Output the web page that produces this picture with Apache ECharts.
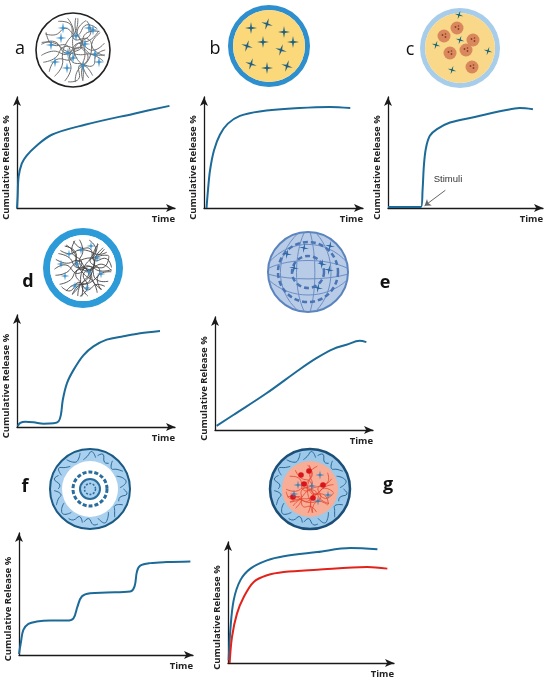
<!DOCTYPE html>
<html>
<head>
<meta charset="utf-8">
<script src="https://cdn.jsdelivr.net/npm/echarts@6/dist/echarts.min.js"></script>
<style>
  html, body { margin: 0; padding: 0; background: #fff; }
  #main { width: 550px; height: 681px; }
</style>
</head>
<body>
<div id="main"></div>
<script>
// release profiles (x = time 0-100, y = release 0-100)
var seriesA = [[0,0],[0.4,10],[1,28],[3,40],[6,47],[11.5,55],[22,66],[43,75],[74,85],[96.5,92]];
var seriesB = [[1.6,0],[2.5,16],[3.8,34],[6.3,52],[10,66],[15,76],[22.6,83],[35,87],[60,90],[79,91],[92,90]];
var seriesC = [[0,1],[21.3,1],[22.3,16],[23.2,39],[24.5,54],[27,65],[31.6,71],[40,77],[56,82],[75.5,88],[85,90],[93.5,89]];
var seriesD = [[0.4,0.6],[2.1,3.6],[5.3,4.7],[10.5,4.2],[16.8,3],[23.2,3.3],[26.3,5],[27.8,11],[29,24.3],[31.6,39],[35.8,51],[42,64],[48.4,72],[56.8,78],[67.4,81],[77.9,83.7],[90.5,85.8]];
var seriesE = [[1,3.6],[11.6,13.3],[32.6,32.5],[53.7,53.8],[64.2,63.6],[74.7,71.6],[83.2,75.4],[91.6,79],[95.8,77.8]];
var seriesF = [[0,0.8],[1,9.6],[2.5,20.5],[5.4,25.5],[10.2,27.4],[17.9,28.2],[27.4,28.2],[31.3,30.1],[33.6,39.7],[36.1,48],[40.9,50.7],[50.5,51.2],[63.9,52],[66.4,56.2],[67.8,68.5],[69.7,73.2],[75.4,75.3],[85,76.2],[98.5,76.7]];
var seriesGBlue = [[0.4,2.2],[1.4,27],[3.4,51.8],[7.4,68.3],[13.5,78],[23.5,84.8],[33.6,88.2],[53.7,91.7],[73.8,95],[90,94]];
var seriesGRed = [[1,0],[2.4,21.5],[5.4,40.8],[9.5,54.5],[15.5,67],[23.5,72.5],[33.6,75.2],[53.7,77.1],[83.9,79.3],[96,78]];
var stimuliArrow = [[37,16],[23.6,2]];

var yName = 'Cumulative Release %';
var xName = 'Time';
var BLUE = '#1c6a98', RED = '#e2231c';

var panels = [
  { grid: { left: 15,  top: 97,  width: 160, height: 111 }, lines: [seriesA], colors: [BLUE] },
  { grid: { left: 204, top: 97,  width: 159, height: 111 }, lines: [seriesB], colors: [BLUE] },
  { grid: { left: 388, top: 97,  width: 155, height: 111 }, lines: [seriesC], colors: [BLUE], stimuli: true },
  { grid: { left: 17,  top: 315, width: 158, height: 112 }, lines: [seriesD], colors: [BLUE] },
  { grid: { left: 215, top: 317, width: 158, height: 113 }, lines: [seriesE], colors: [BLUE] },
  { grid: { left: 19,  top: 533, width: 174, height: 122 }, lines: [seriesF], colors: [BLUE] },
  { grid: { left: 228, top: 542, width: 166, height: 121 }, lines: [seriesGBlue, seriesGRed], colors: [BLUE, RED] }
];

var axisLine = { show: true, symbol: ['none', 'arrow'], symbolSize: [6, 9], lineStyle: { color: '#1a1a1a', width: 1.3 } };
var nameFont = { fontFamily: 'Open Sans', fontWeight: 'bold', fontSize: 9.5, color: '#222' };

var grids = [], xAxes = [], yAxes = [], series = [];
panels.forEach(function (p, i) {
  grids.push(p.grid);
  xAxes.push({
    gridIndex: i, type: 'value', min: 0, max: 100,
    axisLine: axisLine, axisTick: { show: false }, axisLabel: { show: false }, splitLine: { show: false },
    name: xName, nameLocation: 'end', nameGap: 0,
    nameTextStyle: Object.assign({ align: 'right', verticalAlign: 'top', padding: [6, 0, 0, 0] }, nameFont)
  });
  yAxes.push({
    gridIndex: i, type: 'value', min: 0, max: 100,
    axisLine: axisLine, axisTick: { show: false }, axisLabel: { show: false }, splitLine: { show: false },
    name: yName, nameLocation: 'middle', nameGap: 6,
    nameTextStyle: Object.assign({ padding: [0, 30, 0, 0] }, nameFont)
  });
  p.lines.forEach(function (d, k) {
    var s = {
      type: 'line', xAxisIndex: i, yAxisIndex: i, data: d, smooth: 0.35,
      showSymbol: false, silent: true,
      lineStyle: { color: p.colors[k], width: 2 }
    };
    if (p.stimuli) {
      s.markLine = {
        silent: true, symbol: ['none', 'arrow'], symbolSize: 6,
        label: { show: false },
        lineStyle: { color: '#666', width: 1, type: 'solid' },
        data: [[{ coord: stimuliArrow[0] }, { coord: stimuliArrow[1] }]]
      };
    }
    series.push(s);
  });
});

// ---- schematic particle icons ----
var g = [];
function circle(cx, cy, r, fill, stroke, lw, dash) {
  g.push({ type: 'circle', silent: true, shape: { cx: cx, cy: cy, r: r },
    style: { fill: fill || 'none', stroke: stroke || 'none', lineWidth: lw || 0, lineDash: dash || null } });
}
function ring(cx, cy, r0, r, fill) {
  g.push({ type: 'ring', silent: true, shape: { cx: cx, cy: cy, r: r, r0: r0 }, style: { fill: fill } });
}
function star(x, y, s, fill, rot) {
  var pts = [];
  for (var i = 0; i < 8; i++) {
    var a = (rot || 0) + i * Math.PI / 4;
    var rr = i % 2 === 0 ? s : s * 0.22;
    pts.push([x + rr * Math.cos(a), y + rr * Math.sin(a)]);
  }
  g.push({ type: 'polygon', silent: true, shape: { points: pts }, style: { fill: fill } });
}
// tangled polymer chains: wavy chords across the disc
function fibers(cx, cy, r, n, color, lw, off) {
  for (var k = 0; k < n; k++) {
    var a1 = k * 2.39996 + (off || 0);
    var a2 = a1 + Math.PI * (0.55 + 0.5 * Math.abs(Math.sin(k * 1.3)));
    var x1 = cx + r * 0.92 * Math.cos(a1), y1 = cy + r * 0.92 * Math.sin(a1);
    var x2 = cx + r * 0.92 * Math.cos(a2), y2 = cy + r * 0.92 * Math.sin(a2);
    var nx = -(y2 - y1), ny = x2 - x1, len = Math.sqrt(nx * nx + ny * ny) || 1;
    nx /= len; ny /= len;
    var pts = [];
    for (var j = 0; j <= 5; j++) {
      var t = j / 5;
      var w = (j === 0 || j === 5) ? 0 : r * 0.14 * Math.sin(k * 2.1 + j * 2.7);
      pts.push([x1 + (x2 - x1) * t + nx * w, y1 + (y2 - y1) * t + ny * w]);
    }
    g.push({ type: 'polyline', silent: true, shape: { points: pts, smooth: 0.5 },
      style: { stroke: color, lineWidth: lw, fill: 'none' } });
  }
}
function bandFibers(cx, cy, r0, r1, n, color) {
  for (var k = 0; k < n; k++) {
    var pts = [];
    for (var j = 0; j < 4; j++) {
      var ang = (k + j * 0.3) * 2 * Math.PI / n;
      var rad = r0 + (r1 - r0) * (0.5 + 0.45 * Math.sin(k * 2.3 + j * 1.9));
      pts.push([cx + rad * Math.cos(ang), cy + rad * Math.sin(ang)]);
    }
    g.push({ type: 'polyline', silent: true, shape: { points: pts, smooth: 0.5 },
      style: { stroke: color, lineWidth: 1, fill: 'none' } });
  }
}
function label(x, y, t, bold) {
  g.push({ type: 'text', silent: true, x: x, y: y,
    style: { text: t, fill: '#111', align: 'center', verticalAlign: 'middle',
      font: (bold ? 'bold ' : '') + '18px "Open Sans"' } });
}

// a: matrix
circle(73, 50, 37, '#fff', '#222', 1.6);
fibers(73, 50, 35, 15, '#6e6e6e', 1);
[[-22,-5],[-12,-12],[-5,3],[3,-14],[12,-6],[20,-20],[-18,12],[-6,18],[10,16],[22,4],[16,-22],[-10,-22],[0,8],[26,12]].forEach(function (s) {
  star(73 + s[0], 50 + s[1], 5.5, '#3a8fc8');
});
label(20, 49, 'a');

// b: reservoir
ring(269, 46, 36, 41, '#2e8fce');
circle(269, 46, 36, '#fbd87a');
[[-18,-18],[-2,-22],[15,-14],[-22,0],[-6,-4],[12,4],[24,-4],[-18,18],[-2,22],[18,20]].forEach(function (s, i) {
  star(269 + s[0], 46 + s[1], 6, '#1e5f82', i % 2 ? 0.3 : 0);
});
label(215, 49, 'b');

// c: stimuli responsive
ring(460, 48, 35, 40, '#a7cdeb');
circle(460, 48, 35, '#f9d889');
[[-16,-12],[-3,-20],[13,-8],[-10,5],[6,2],[12,19]].forEach(function (s) {
  circle(460 + s[0], 48 + s[1], 6.5, '#d9875c');
  circle(460 + s[0] - 1.5, 48 + s[1] - 1, 0.9, '#8a3d22');
  circle(460 + s[0] + 1.5, 48 + s[1] + 1, 0.9, '#8a3d22');
  circle(460 + s[0] + 1.5, 48 + s[1] - 2, 0.8, '#8a3d22');
});
[[-1,-33],[-24,-3],[0,-8],[28,3],[-8,22]].forEach(function (s) {
  star(460 + s[0], 48 + s[1], 4.5, '#1d6a78', 0.3);
});
label(410, 50, 'c');

// d: coated matrix
ring(83, 268, 33, 40, '#2c9bd8');
circle(83, 268, 33, '#fff');
fibers(83, 268, 31, 18, '#444', 0.9, 0.7);
[[-14,-14],[-2,-18],[8,-22],[14,-10],[-6,-4],[6,4],[18,6],[-18,8],[-8,18],[4,20],[-22,-4]].forEach(function (s) {
  star(83 + s[0], 268 + s[1], 4.5, '#3a8fc8');
});
label(28, 282, 'd', true);

// e: swelling network
circle(308, 272, 40, '#b8cce8', '#5b84bf', 2);
[-24, -10, 6, 20].forEach(function (o) {
  g.push({ type: 'bezierCurve', silent: true,
    shape: { x1: 308 + o * 0.4, y1: 233, x2: 308 + o * 0.4, y2: 311, cpx1: 308 + o * 1.4, cpy1: 255, cpx2: 308 + o * 1.4, cpy2: 290 },
    style: { stroke: '#6c8ec4', lineWidth: 1, fill: 'none' } });
  g.push({ type: 'bezierCurve', silent: true,
    shape: { x1: 269, y1: 272 + o * 0.4, x2: 347, y2: 272 + o * 0.4, cpx1: 290, cpy1: 272 + o * 1.4, cpx2: 326, cpy2: 272 + o * 1.4 },
    style: { stroke: '#6c8ec4', lineWidth: 1, fill: 'none' } });
});
circle(308, 272, 30, null, '#4a74b4', 2.5, [5, 3]);
circle(308, 272, 16, null, '#4a74b4', 2.5, [5, 3]);
[[-21,-18],[-14,-4],[14,-8],[21,-2],[10,16],[-4,-24],[22,-26]].forEach(function (s) {
  star(308 + s[0], 272 + s[1], 5, '#2f6aa6', 0.2);
});
label(385, 283, 'e', true);

// f: multilayer
circle(90, 489, 40, '#a9d0ee', '#1b5a85', 2);
bandFibers(90, 489, 29, 38, 14, '#2a6a98');
circle(90, 489, 28, '#fff');
circle(90, 489, 17, '#fff', '#2a6c9c', 3, [4, 2]);
circle(90, 489, 10, '#a9d0ee', '#2a6c9c', 2);
circle(90, 489, 5.5, null, '#2a6c9c', 1.5, [2, 1.5]);
label(25, 487, 'f', true);

// g: dual drug core-shell
circle(310, 489, 40, '#9cc8ea', '#1b4f78', 2.5);
bandFibers(310, 489, 29, 38, 14, '#2a6a98');
circle(310, 489, 28, '#f8ad96');
fibers(310, 489, 26, 12, '#e4432f', 0.8, 1.3);
[[-1,-18],[-6,-5],[13,-4],[-17,8],[3,9],[-9,-14]].forEach(function (s) {
  circle(310 + s[0], 489 + s[1], 2.8, '#d8141c');
});
[[-12,-4],[10,-14],[-16,5],[2,-3],[8,12],[18,6]].forEach(function (s) {
  star(310 + s[0], 489 + s[1], 4.5, '#3a7fb5');
});
label(388, 485, 'g', true);

g.push({ type: 'text', silent: true, x: 448, y: 179,
  style: { text: 'Stimuli', fill: '#333', align: 'center', verticalAlign: 'middle', font: '9.5px "Liberation Sans"' } });

var chart = echarts.init(document.getElementById('main'));
chart.setOption({
  animation: false,
  backgroundColor: '#fff',
  grid: grids,
  xAxis: xAxes,
  yAxis: yAxes,
  series: series,
  graphic: g
});
</script>
</body>
</html>
